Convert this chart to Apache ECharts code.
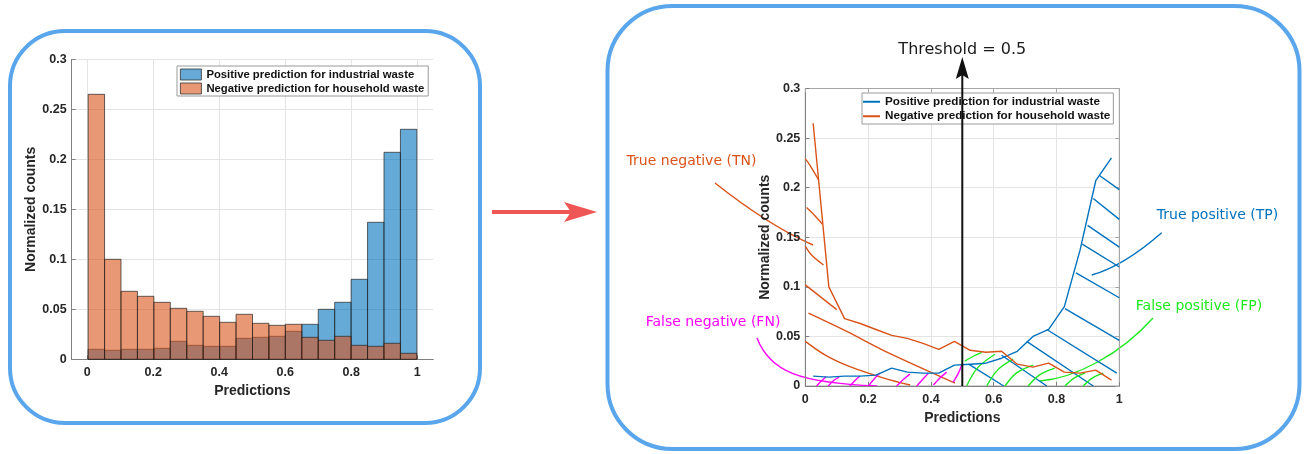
<!DOCTYPE html>
<html><head><meta charset="utf-8">
<script src="https://cdn.jsdelivr.net/npm/echarts@6/dist/echarts.min.js"></script>
<style>html,body{margin:0;padding:0;background:#fff;}#c{width:1304px;height:454px;}</style>
</head><body><div id="c"></div>
<script>
const POS = 'Positive prediction for industrial waste';
const NEG = 'Negative prediction for household waste';
const binStarts = [0,0.05,0.1,0.15,0.2,0.25,0.3,0.35,0.4,0.45,0.5,0.55,0.6,0.65,0.7,0.75,0.8,0.85,0.9,0.95];
const binCenters = [0.025,0.075,0.125,0.175,0.225,0.275,0.325,0.375,0.425,0.475,0.525,0.575,0.625,0.675,0.725,0.775,0.825,0.875,0.925,0.975];
const binWidth = 0.05;
const positiveCounts = [0.010,0.009,0.010,0.010,0.011,0.018,0.014,0.013,0.013,0.021,0.022,0.023,0.028,0.035,0.050,0.057,0.080,0.137,0.207,0.230];
const negativeCounts = [0.265,0.100,0.068,0.063,0.057,0.051,0.048,0.043,0.037,0.045,0.036,0.034,0.035,0.022,0.019,0.023,0.014,0.013,0.016,0.006];
const xTickInterval = 0.2;
const yTickInterval = 0.05;
const threshold = 0.5;
// hatch strokes (data units) of the right panel
const tnHatch = [
  [[0,0.229],[0.014,0.223],[0.042,0.208]],
  [[0.004,0.180],[0.03,0.172],[0.055,0.163]],
  [[0,0.141],[0.02,0.132],[0.058,0.122]],
  [[0,0.102],[0.1,0.077]],
  [[0.01,0.0734],[0.132,0.055],[0.248,0.036],[0.477,0.003]],
  [[0,0.045],[0.068,0.0303],[0.142,0.0195],[0.25,0.008],[0.334,0.001]]
];
const tpHatch = [
  [[0.938,0.212],[1.0,0.198]],
  [[0.917,0.189],[1.0,0.168]],
  [[0.899,0.162],[1.0,0.140]],
  [[0.882,0.143],[1.0,0.120]],
  [[0.862,0.114],[1.0,0.089]],
  [[0.827,0.078],[1.0,0.046]],
  [[0.769,0.057],[0.992,0.013]],
  [[0.705,0.045],[0.917,0.0]],
  [[0.625,0.031],[0.769,0.0]],
  [[0.52,0.022],[0.632,0.0]]
];
const fpHatch = [
  [[0.508,0.025],[0.535,0.030],[0.562,0.034]],
  [[0.514,0.0],[0.548,0.018],[0.604,0.032]],
  [[0.578,0.0],[0.612,0.016],[0.662,0.027]],
  [[0.636,0.0],[0.672,0.013],[0.726,0.021]],
  [[0.710,0.0],[0.745,0.011],[0.795,0.018]],
  [[0.827,0.0],[0.856,0.008],[0.891,0.013]],
  [[0.885,0.0],[0.914,0.008],[0.949,0.013]]
];
const fnHatch = [
  [[0.036,0],[0.054,0.006],[0.066,0.0094]],
  [[0.073,0],[0.092,0.006],[0.108,0.009]],
  [[0.142,0],[0.16,0.006],[0.174,0.010]],
  [[0.201,0],[0.222,0.008],[0.238,0.013]],
  [[0.291,0],[0.314,0.007],[0.333,0.012]],
  [[0.355,0],[0.375,0.007],[0.392,0.013]],
  [[0.408,0.001],[0.432,0.009],[0.45,0.014]],
  [[0.471,0.004],[0.486,0.012],[0.498,0.021]]
];

const C_BLUE = '#0072BD', C_ORANGE = '#D95319', C_GREEN = '#1fe81f', C_MAG = '#ff00ff';
const axisCol = '#808080', gridCol = '#e4e4e4', txtCol = '#262626';
const tickFont = {fontFamily:'Liberation Sans', fontWeight:'bold', fontSize:12.5, color:txtCol};
const nameFont = {fontFamily:'Liberation Sans', fontWeight:'bold', fontSize:14, color:txtCol};

function barSeries(name, values, color){
  return {
    type:'custom', name, xAxisIndex:0, yAxisIndex:0, silent:true,
    itemStyle:{color},
    data: binStarts.map((s,i)=>[s, values[i]]),
    renderItem:(params, api)=>{
      const lo = api.value(0), v = api.value(1);
      const p1 = api.coord([lo, v]);
      const p2 = api.coord([lo+binWidth, 0]);
      return {type:'rect', shape:{x:p1[0], y:p1[1], width:p2[0]-p1[0], height:p2[1]-p1[1]},
        style:{fill:color, opacity:1, stroke:'rgba(30,30,30,0.85)', lineWidth:0.8}};
    }
  };
}
function hatchSeries(group, color){
  return group.map((seg, k)=>({
    type:'line', name:'hatch'+color+k, xAxisIndex:2, yAxisIndex:2, data:seg,
    symbol:'none', silent:true, smooth: seg.length>2 ? 0.35 : false,
    lineStyle:{color, width:1.4}, z:3, clip:true
  }));
}

const chart = echarts.init(document.getElementById('c'), null, {renderer:'canvas'});
const commonY = (extra)=>Object.assign({type:'value', min:0, max:0.3, interval:yTickInterval,
  axisLine:{show:true, onZero:false, lineStyle:{color:axisCol}}, axisTick:{show:true, inside:true, length:4, lineStyle:{color:axisCol}},
  axisLabel:Object.assign({margin:5}, tickFont), splitLine:{show:true, lineStyle:{color:gridCol}}}, extra);

chart.setOption({
  animation:false,
  backgroundColor:'#fff',
  grid:[
    {left:71.7, top:59.3, width:361.6, height:300},
    {left:87.3, top:59.3, width:330, height:300},
    {left:805.3, top:88.5, width:314, height:297.5, show:true, borderColor:'#a6a6a6', borderWidth:1}
  ],
  xAxis:[
    {type:'value', gridIndex:0, min:-0.05, max:1.05, axisLine:{show:true, onZero:false, lineStyle:{color:axisCol}},
      axisTick:{show:false}, axisLabel:{show:false}, splitLine:{show:false}},
    {type:'value', gridIndex:1, min:0, max:1, interval:xTickInterval, axisLine:{show:false},
      axisTick:{show:true, inside:true, length:4, lineStyle:{color:axisCol}},
      axisLabel:Object.assign({margin:7}, tickFont), splitLine:{show:true, lineStyle:{color:gridCol}},
      name:'Predictions', nameLocation:'middle', nameGap:24, nameTextStyle:nameFont},
    {type:'value', gridIndex:2, min:0, max:1, interval:xTickInterval, axisLine:{show:true, onZero:false, lineStyle:{color:axisCol}},
      axisTick:{show:true, inside:true, length:4, lineStyle:{color:axisCol}},
      axisLabel:Object.assign({margin:7}, tickFont), splitLine:{show:true, lineStyle:{color:gridCol}},
      name:'Predictions', nameLocation:'middle', nameGap:25, nameTextStyle:nameFont},
    {type:'value', gridIndex:2, position:'top', min:0, max:1, interval:xTickInterval, axisLine:{show:true, onZero:false, lineStyle:{color:'#a6a6a6'}},
      axisTick:{show:true, inside:true, length:4, lineStyle:{color:'#a6a6a6'}}, axisLabel:{show:false}, splitLine:{show:false}}
  ],
  yAxis:[
    commonY({gridIndex:0, name:'Normalized counts', nameLocation:'middle', nameGap:32, nameTextStyle:nameFont}),
    {type:'value', gridIndex:1, min:0, max:0.3, show:false},
    commonY({gridIndex:2, name:'Normalized counts', nameLocation:'middle', nameGap:32, nameTextStyle:nameFont}),
    commonY({gridIndex:2, position:'right', axisLabel:{show:false}, splitLine:{show:false},
      axisLine:{show:true, onZero:false, lineStyle:{color:'#a6a6a6'}}, axisTick:{show:true, inside:true, length:4, lineStyle:{color:'#a6a6a6'}}})
  ],
  legend:[
    {left:177, top:66, orient:'vertical', padding:[2,4,1,3], itemGap:1, itemWidth:21, itemHeight:11,
      borderColor:'#9a9a9a', borderWidth:1, backgroundColor:'#fff', selectedMode:false,
      textStyle:{fontFamily:'Liberation Sans', fontWeight:'bold', fontSize:11.3, color:'#111', lineHeight:13},
      data:[{name:POS, icon:'rect', itemStyle:{color:'rgba(0,114,189,0.6)', borderColor:'#333', borderWidth:0.8}},
            {name:NEG, icon:'rect', itemStyle:{color:'rgba(217,83,25,0.6)', borderColor:'#333', borderWidth:0.8}}]},
    {left:862, top:93, orient:'vertical', padding:[2,3,1,1], itemGap:1, itemWidth:17, itemHeight:2,
      borderColor:'#9a9a9a', borderWidth:1, backgroundColor:'#fff', selectedMode:false, z:5,
      textStyle:{fontFamily:'Liberation Sans', fontWeight:'bold', fontSize:11.7, color:'#111', lineHeight:13.5},
      data:[{name:POS, icon:'rect', itemStyle:{color:C_BLUE, borderWidth:0, opacity:1}},
            {name:NEG, icon:'rect', itemStyle:{color:C_ORANGE, borderWidth:0, opacity:1}}]}
  ],
  series:[
    barSeries(POS, positiveCounts, 'rgba(0,114,189,0.6)'),
    barSeries(NEG, negativeCounts, 'rgba(217,83,25,0.6)'),
    ...hatchSeries(tnHatch, C_ORANGE),
    ...hatchSeries(tpHatch, C_BLUE),
    ...hatchSeries(fpHatch, C_GREEN),
    ...hatchSeries(fnHatch, C_MAG),
    {type:'line', name:POS, xAxisIndex:2, yAxisIndex:2, data:binCenters.map((x,i)=>[x, positiveCounts[i]]),
      symbol:'none', silent:true, lineStyle:{color:C_BLUE, width:1.4}, itemStyle:{color:C_BLUE}, z:4},
    {type:'line', name:NEG, xAxisIndex:2, yAxisIndex:2, data:binCenters.map((x,i)=>[x, negativeCounts[i]]),
      symbol:'none', silent:true, lineStyle:{color:C_ORANGE, width:1.4}, itemStyle:{color:C_ORANGE}, z:4}
  ]
});

const tp = chart.convertToPixel({xAxisIndex:2, yAxisIndex:2}, [threshold, 0]);
const tx = tp[0], ty = tp[1];
const frameCol = '#5aa6ec';
chart.setOption({
  graphic:[
    {type:'rect', shape:{x:10, y:31, width:470, height:392, r:55}, style:{fill:'none', stroke:frameCol, lineWidth:4}, silent:true},
    {type:'rect', shape:{x:607.5, y:6, width:692, height:443, r:65}, style:{fill:'none', stroke:frameCol, lineWidth:4}, silent:true},
    {type:'line', shape:{x1:492, y1:212, x2:580, y2:212}, style:{stroke:'#ef5656', lineWidth:4}, silent:true},
    {type:'polygon', shape:{points:[[564,202],[597,212],[564,222],[571,212]]}, style:{fill:'#ef5656'}, silent:true},
    {type:'line', z:100, shape:{x1:tx, y1:ty, x2:tx, y2:70}, style:{stroke:'#111', lineWidth:2}, silent:true},
    {type:'polygon', z:100, shape:{points:[[tx-6.5,79],[tx,57],[tx+6.5,79],[tx,75]]}, style:{fill:'#111'}, silent:true},
    {type:'text', z:100, x:tx, y:50, style:{text:'Threshold = 0.5', fill:'#1a1a1a', font:'16px "DejaVu Sans"', textAlign:'center', textVerticalAlign:'middle'}, silent:true},
    {type:'text', x:691.5, y:161, style:{text:'True negative (TN)', fill:C_ORANGE, font:'14px "DejaVu Sans"', textAlign:'center', textVerticalAlign:'middle'}, silent:true},
    {type:'bezierCurve', shape:{x1:715, y1:183, cpx1:769.4, cpy1:226, x2:813, y2:245}, style:{stroke:C_ORANGE, lineWidth:1.4, fill:'none'}, silent:true},
    {type:'text', x:1217.5, y:215, style:{text:'True positive (TP)', fill:C_BLUE, font:'14px "DejaVu Sans"', textAlign:'center', textVerticalAlign:'middle'}, silent:true},
    {type:'bezierCurve', shape:{x1:1091.7, y1:275, cpx1:1123.3, cpy1:266.2, x2:1161.7, y2:232.7}, style:{stroke:C_BLUE, lineWidth:1.4, fill:'none'}, silent:true},
    {type:'text', x:1199, y:306, style:{text:'False positive (FP)', fill:C_GREEN, font:'14px "DejaVu Sans"', textAlign:'center', textVerticalAlign:'middle'}, silent:true},
    {type:'bezierCurve', shape:{x1:1040, y1:381, cpx1:1075, cpy1:378, cpx2:1120, cpy2:355, x2:1153, y2:318}, style:{stroke:C_GREEN, lineWidth:1.4, fill:'none'}, silent:true},
    {type:'text', x:713, y:322, style:{text:'False negative (FN)', fill:C_MAG, font:'14px "DejaVu Sans"', textAlign:'center', textVerticalAlign:'middle'}, silent:true},
    {type:'bezierCurve', shape:{x1:757, y1:338, cpx1:770, cpy1:372, cpx2:800, cpy2:383, x2:877, y2:386}, style:{stroke:C_MAG, lineWidth:1.4, fill:'none'}, silent:true}
  ]
});
</script></body></html>
